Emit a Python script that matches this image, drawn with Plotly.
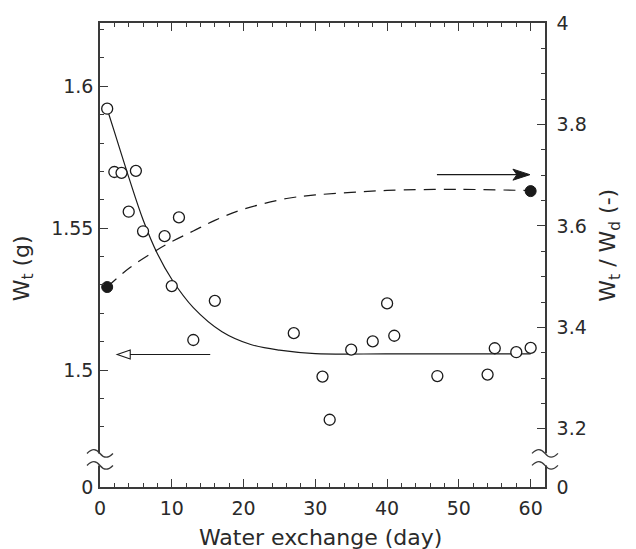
import plotly.graph_objects as go

# ---- data ----
days = [1, 2, 3, 4, 5, 6, 9, 10, 11, 13, 16, 27, 31, 32, 35, 38, 40, 41, 47, 54, 55, 58, 60]
wt = [1.5921, 1.5698, 1.5695, 1.5558, 1.5702, 1.5489, 1.5472, 1.5296, 1.5538, 1.5106,
      1.5244, 1.5130, 1.4977, 1.4825, 1.5072, 1.5101, 1.5235, 1.5121, 1.4979, 1.4984,
      1.5077, 1.5063, 1.5078]

fit_day = [1, 2, 4, 6, 8, 10, 13, 17, 21, 25, 30, 40, 50, 60]
fit_wt = [1.592, 1.584, 1.568, 1.553, 1.541, 1.532, 1.522, 1.5135, 1.509, 1.507,
          1.5058, 1.5057, 1.5057, 1.5057]

ratio_pts_day = [1, 60]
ratio_pts = [3.4795, 3.6686]
ratio_day = [1, 4, 8, 10, 13, 16, 20, 26, 30, 35, 40, 50, 60]
ratio_fit = [3.4795, 3.516, 3.553, 3.569, 3.590, 3.611, 3.633, 3.654, 3.661, 3.666,
             3.670, 3.672, 3.6695]

x_ticks = [0, 10, 20, 30, 40, 50, 60]
left_range = [1.4588, 1.6223]
right_range = [3.0853, 4.0]
left_ticks = [1.4588, 1.5, 1.55, 1.6]
left_ticktext = ["0", "1.5", "1.55", "1.6"]
left_minor = [1.48, 1.49, 1.51, 1.52, 1.53, 1.54, 1.56, 1.57, 1.58, 1.59, 1.61, 1.62]
right_ticks = [3.0853, 3.2, 3.4, 3.6, 3.8, 4.0]
right_ticktext = ["0", "3.2", "3.4", "3.6", "3.8", "4"]
right_minor = [3.25, 3.3, 3.35, 3.45, 3.5, 3.55, 3.65, 3.7, 3.75, 3.85, 3.9, 3.95]

FONT = "DejaVu Sans"
AX = "#3a3a3a"
INK = "#1a1a1a"
TXT = "#2a2a2a"

fig = go.Figure()
fig.add_trace(go.Scatter(x=fit_day, y=fit_wt, mode="lines", line=dict(color=INK, width=1.2, shape="spline"),
                         showlegend=False))
fig.add_trace(go.Scatter(x=ratio_day, y=ratio_fit, mode="lines", yaxis="y2",
                         line=dict(color=INK, width=1.2, dash="12px,8px", shape="spline"), showlegend=False))
fig.add_trace(go.Scatter(x=days, y=wt, mode="markers",
                         marker=dict(symbol="circle", size=11, color="white", line=dict(color=INK, width=1.3)),
                         showlegend=False))
fig.add_trace(go.Scatter(x=ratio_pts_day, y=ratio_pts, mode="markers", yaxis="y2",
                         marker=dict(symbol="circle", size=11, color=INK, line=dict(color=INK, width=1)),
                         showlegend=False))

tickfont = dict(family=FONT, size=19, color=TXT)
fig.update_layout(
    width=636, height=549,
    margin=dict(l=100, r=91, t=16, b=62),
    paper_bgcolor="white", plot_bgcolor="white",
    xaxis=dict(range=[0, 62], tickvals=x_ticks, ticks="inside", ticklen=8, tickwidth=1.3, tickcolor=AX,
               minor=dict(dtick=2, tick0=0, ticks="inside", ticklen=4, tickwidth=1.1, tickcolor=AX),
               showline=True, linecolor=AX, linewidth=1.5, mirror="ticks", showgrid=False, zeroline=False,
               tickfont=tickfont, ticklabelstandoff=3),
    yaxis=dict(range=left_range, tickvals=left_ticks, ticktext=left_ticktext, ticks="inside", ticklen=8,
               tickwidth=1.3, tickcolor=AX,
               minor=dict(tickvals=left_minor, ticks="inside", ticklen=4, tickwidth=1.1, tickcolor=AX),
               showline=True, linecolor=AX, linewidth=1.5, showgrid=False, zeroline=False,
               tickfont=tickfont, ticklabelstandoff=1),
    yaxis2=dict(range=right_range, tickvals=right_ticks, ticktext=right_ticktext, overlaying="y", side="right",
                ticks="inside", ticklen=8, tickwidth=1.3, tickcolor=AX,
                minor=dict(tickvals=right_minor, ticks="inside", ticklen=4, tickwidth=1.1, tickcolor=AX),
                showline=True, linecolor=AX, linewidth=1.5, showgrid=False, zeroline=False,
                tickfont=tickfont, ticklabelstandoff=6),
)

# axis titles
fig.add_annotation(text="Water exchange (day)", xref="paper", yref="paper", x=0.495, y=-0.108,
                   yanchor="middle", showarrow=False, font=dict(family=FONT, size=22, color=TXT))
fig.add_annotation(text="W<sub>t</sub> (g)", xref="paper", yref="paper", x=-0.172, y=0.5 - 13 / 471,
                   xanchor="center", yanchor="middle", textangle=-90, showarrow=False,
                   font=dict(family=FONT, size=22, color=TXT))
fig.add_annotation(text="W<sub>t</sub> / W<sub>d</sub> (-)", xref="paper", yref="paper", x=1.145,
                   y=0.5 + 10 / 471, xanchor="center", yanchor="middle", textangle=-90, showarrow=False,
                   font=dict(family=FONT, size=22, color=TXT))

# broken-axis marks (white gap + two wavy strokes) on both y axes
def wave(dy):
    return "M-13,%g C-8,%g -4,%g 0,%g C4,%g 8,%g 13,%g" % (dy, dy + 5, dy + 5, dy, dy - 5, dy - 5, dy)

for xa, ya, yr in [(0, 1.4685, "y"), (1, 3.1397, "y2")]:
    fig.add_shape(type="rect", xref="paper", yref=yr, xsizemode="pixel", ysizemode="pixel",
                  xanchor=xa, yanchor=ya, x0=-4, x1=4, y0=-6, y1=6,
                  fillcolor="white", line=dict(width=0), layer="above")
    for dy in (6, -6):
        fig.add_shape(type="path", xref="paper", yref=yr, xsizemode="pixel", ysizemode="pixel",
                      xanchor=xa, yanchor=ya, path=wave(dy),
                      line=dict(color=AX, width=1.3), layer="above")

# left-pointing open arrow (toward left axis)
fig.add_shape(type="path", xref="x", yref="y", xsizemode="pixel", ysizemode="pixel",
              xanchor=2.4, yanchor=1.5055,
              path="M0,0 L13,4.5 L13,-4.5 Z M13,0 L93,0",
              line=dict(color=INK, width=1.1), fillcolor="white", layer="above")
# right-pointing filled arrow (toward right axis)
fig.add_shape(type="path", xref="x", yref="y2", xsizemode="pixel", ysizemode="pixel",
              xanchor=59.9, yanchor=3.701,
              path="M-93,0 L-12,0",
              line=dict(color=INK, width=1.3), layer="above")
fig.add_shape(type="path", xref="x", yref="y2", xsizemode="pixel", ysizemode="pixel",
              xanchor=59.9, yanchor=3.701,
              path="M0,0 L-17,5.5 L-13,0 L-17,-5.5 Z",
              line=dict(color=INK, width=1), fillcolor=INK, layer="above")

fig.write_html("out.html")
